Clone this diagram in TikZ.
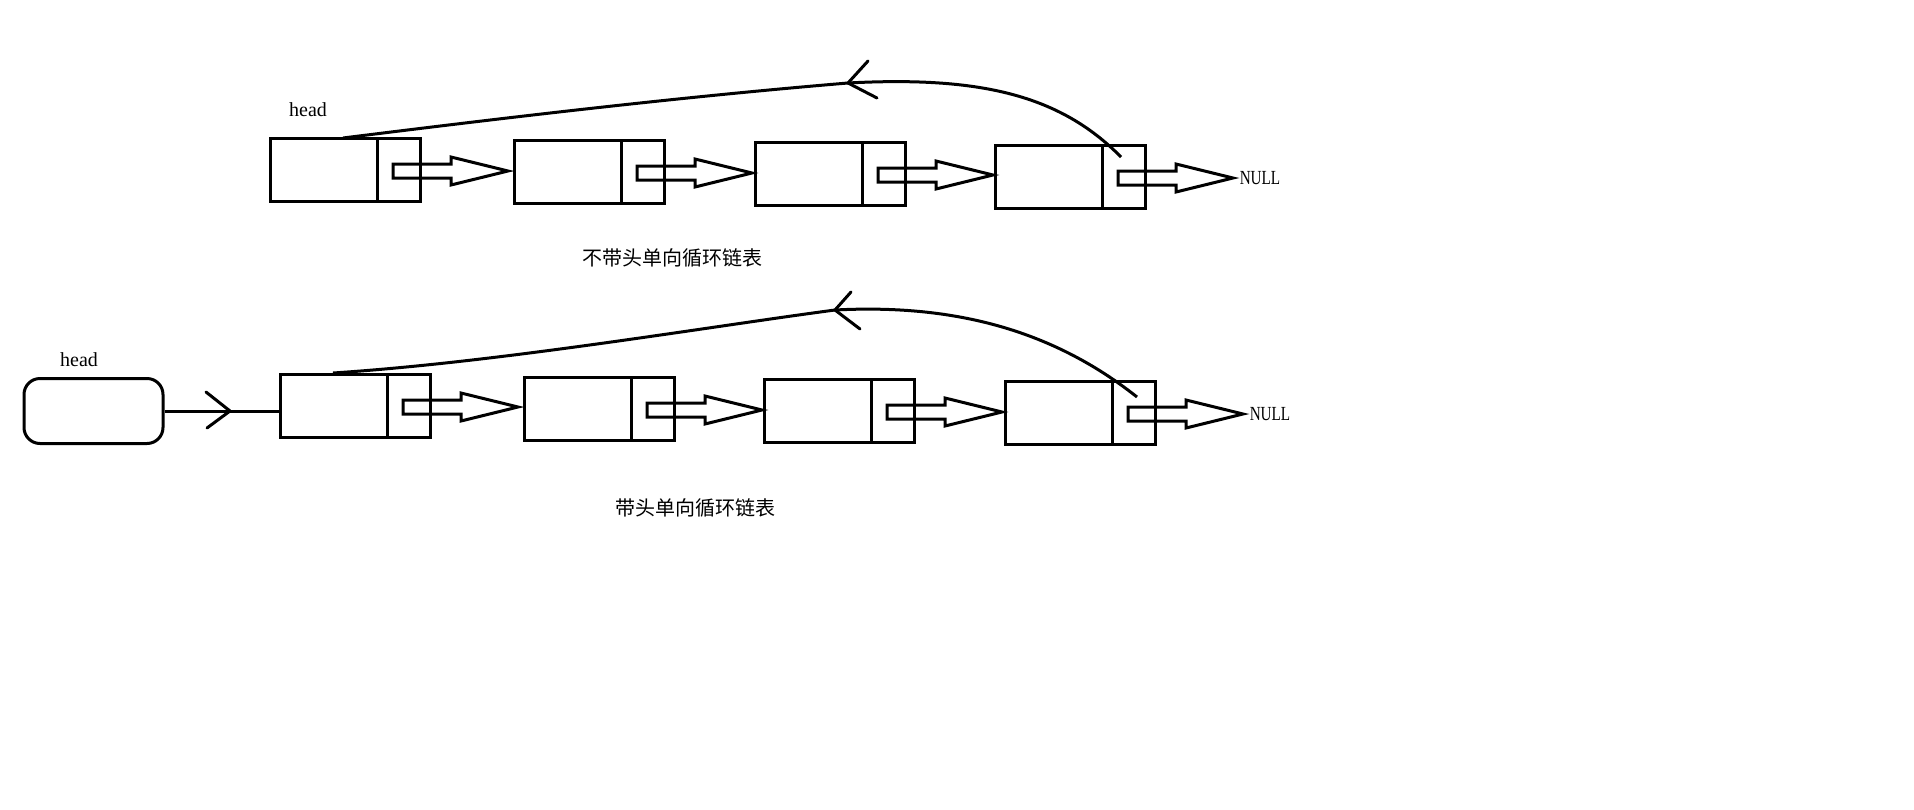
\documentclass[tikz,border=0pt]{standalone}
\usepackage{fontspec}
\usepackage{graphicx}
\setmainfont{Liberation Serif}
\newfontfamily\cjk{Noto Sans CJK SC}
\usetikzlibrary{calc}
\newcommand\listnode[3]{%
  \node[cell] (#1) at (#2,#3) {};
  \draw[ln] ($(#1.north west)+(107,0)$) -- ($(#1.south west)+(107,0)$);
  \draw[ln] ($(#1.north west)+(123,26)$) -- ++(58,0) -- ++(0,-7) -- ++(57,14) -- ++(-57,14) -- ++(0,-7) -- ++(-58,0) -- cycle;
}
\begin{document}
\begin{tikzpicture}[x=1pt,y=-1pt,
  ln/.style={line width=3pt, line join=miter},
  cell/.style={draw, line width=3pt, rectangle, minimum width=150pt, minimum height=63pt, inner sep=0pt, outer sep=0pt, anchor=north west},
  lbl/.style={inner sep=0pt, font=\fontsize{20}{24}\selectfont},
  captxt/.style={inner sep=0pt, font=\cjk\fontsize{20}{24}\selectfont}]
\fill[white] (0,0) rectangle (1914,809);
\useasboundingbox (0,0) rectangle (1914,809);

% ---- row 1 : without head ----
\listnode{b1}{270}{138}
\listnode{b2}{514}{140}
\listnode{b3}{755}{142}
\listnode{b4}{995}{145}
\node[lbl] (hd1) at (308,110) {head};
\node[lbl] (null1) at (1260,178) {\scalebox{0.76}[1]{NULL}};
\coordinate (t1) at (848,83);
\draw[ln] ($(b1.north west)+(73,0)$) .. controls (511,117) and (680,97) .. (t1)
  .. controls (980,76) and (1060,95) .. ($(b4.north west)+(126,12)$);
\draw[ln, line cap=round] (t1) -- ++(20,-22) (t1) -- ++(29,15);
\node[captxt] (cap1) at (672.5,258) {不带头单向循环链表};

% ---- row 2 : with head ----
\listnode{c1}{280}{374}
\listnode{c2}{524}{377}
\listnode{c3}{764}{379}
\listnode{c4}{1005}{381}
\node[draw, line width=3pt, rounded corners=16pt, minimum width=139pt, minimum height=65pt, inner sep=0pt] (h) at (93.5,411) {};
\node[lbl] (hd2) at (79,360) {head};
\draw[ln] (h.east) -- (h.east -| c1.west);
\coordinate (m) at (230,411);
\draw[ln, line cap=round] (m) -- ++(-24,-19) (m) -- ++(-23,17);
\node[lbl] (null2) at (1270,414) {\scalebox{0.76}[1]{NULL}};
\coordinate (t2) at (835,310);
\draw[ln] ($(c1.north west)+(53,-1)$) .. controls (500,362) and (700,328) .. (t2)
  .. controls (950,304) and (1050,328) .. ($(c4.north west)+(132,16)$);
\draw[ln, line cap=round] (t2) -- ++(16,-18) (t2) -- ++(25,19);
\node[captxt] (cap2) at (695.5,508) {带头单向循环链表};
\end{tikzpicture}
\end{document}
